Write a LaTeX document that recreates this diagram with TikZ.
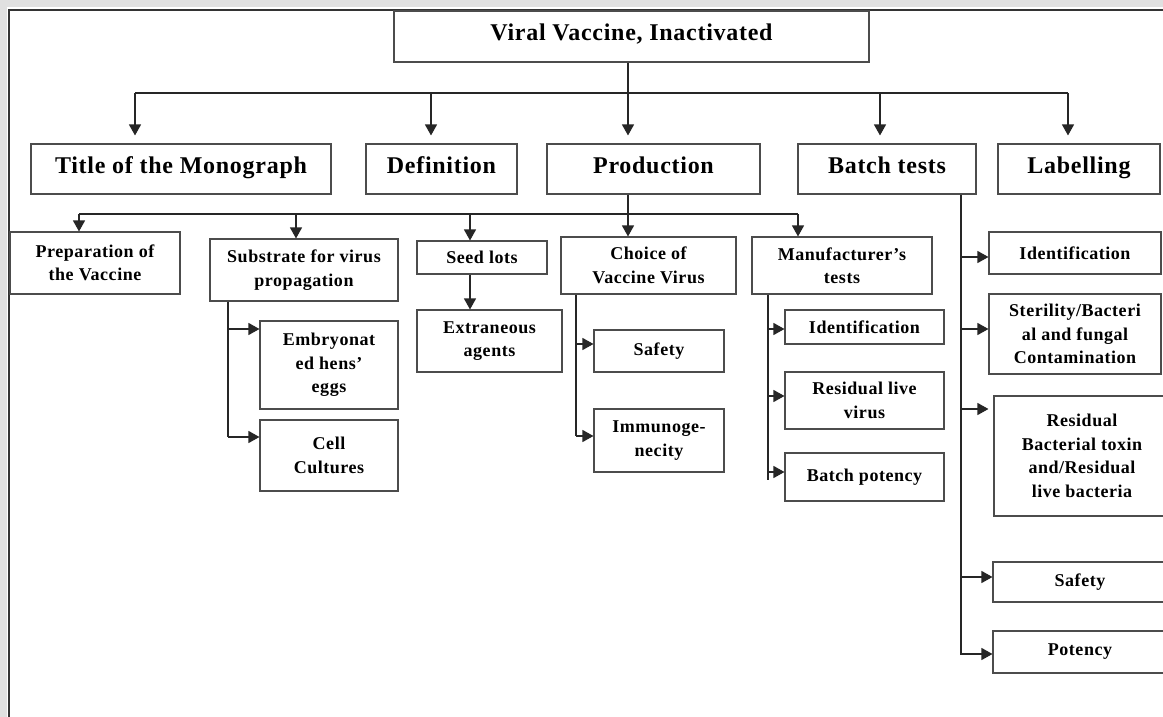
\documentclass[tikz,border=0pt]{standalone}
\usepackage{fontspec}
\setmainfont{Liberation Serif}[LetterSpace=3]
\usetikzlibrary{arrows.meta}
\begin{document}
\begin{tikzpicture}[x=1pt,y=-1pt,
  box/.style={draw=black!70, line width=1.1pt, rectangle, inner sep=0pt, align=center, text=black},
  big/.style={font=\fontsize{24}{28}\selectfont\bfseries, text height=16pt, text depth=7pt},
  small/.style={font=\fontsize{18}{23.5}\selectfont\bfseries},
  conn/.style={draw=black!85, line width=1.2pt},
  arr/.style={conn, -{Triangle[length=11pt,width=12pt]}},
  arrg/.style={arr, shorten >=8pt}]
\useasboundingbox (0,0) rectangle (1163,717);
\fill[black!12] (0,0) rectangle (1163,717);
\fill[white] (7,7) rectangle (1163,717);
\draw[draw=black!80, line width=1.1pt] (9,717) -- (9,10) -- (1163,10);

% top
\node[box, big, minimum width=475, minimum height=51] (top) at (631.5,36.5) {Viral Vaccine, Inactivated};
% level 1
\node[box, big, minimum width=300, minimum height=50] (title) at (181,169) {Title of the Monograph};
\node[box, big, minimum width=151, minimum height=50] (def) at (441.5,169) {Definition};
\node[box, big, minimum width=213, minimum height=50] (prod) at (653.5,169) {Production};
\node[box, big, minimum width=178, minimum height=50] (batch) at (887,169) {Batch tests};
\node[box, big, minimum width=162, minimum height=50] (label) at (1079,169) {Labelling};

% level 2
\node[box, small, minimum width=170, minimum height=62] (prep) at (95,263) {Preparation of\\the Vaccine};
\node[box, small, minimum width=188, minimum height=62] (subs) at (304,270) {Substrate for virus\\propagation};
\node[box, small, minimum width=130, minimum height=33] (seed) at (482,257.5) {Seed lots};
\node[box, small, minimum width=145, minimum height=62] (extr) at (489.5,341) {Extraneous\\agents};
\node[box, small, minimum width=175, minimum height=57] (choice) at (648.5,265.5) {Choice of\\Vaccine Virus};
\node[box, small, minimum width=130, minimum height=42] (safe1) at (659,351) {Safety};
\node[box, small, minimum width=130, minimum height=63] (immu) at (659,440.5) {Immunoge-\\necity};
\node[box, small, minimum width=180, minimum height=57] (manu) at (842,265.5) {Manufacturer’s\\tests};
\node[box, small, minimum width=159, minimum height=34] (id1) at (864.5,327) {Identification};
\node[box, small, minimum width=159, minimum height=57] (resv) at (864.5,400.5) {Residual live\\virus};
\node[box, small, minimum width=159, minimum height=48] (bpot) at (864.5,477) {Batch potency};
\node[box, small, minimum width=138, minimum height=88] (embr) at (329,365) {Embryonat\\ed hens’\\eggs};
\node[box, small, minimum width=138, minimum height=71] (cell) at (329,455.5) {Cell\\Cultures};
\node[box, small, minimum width=172, minimum height=42] (id2) at (1075,253) {Identification};
\node[box, small, minimum width=172, minimum height=80] (ster) at (1075,334) {Sterility/Bacteri\\al and fungal\\Contamination};
\node[box, small, minimum width=176, minimum height=120] (resb) at (1082,456) {Residual\\Bacterial toxin\\and/Residual\\live bacteria};
\node[box, small, minimum width=174, minimum height=40] (safe2) at (1080,582) {Safety};
\node[box, small, minimum width=174, minimum height=42] (pot2) at (1080,652) {Potency};

% connectors level 1
\draw[conn] (628,0 |- top.south) -- (628,93);
\draw[conn] (135,93) -- (1068,93);
\draw[arrg] (135,93) -- (135,0 |- title.north);
\draw[arrg] (431,93) -- (431,0 |- def.north);
\draw[arrg] (628,93) -- (628,0 |- prod.north);
\draw[arrg] (880,93) -- (880,0 |- batch.north);
\draw[arrg] (1068,93) -- (1068,0 |- label.north);

% connectors level 2
\draw[conn] (628,0 |- prod.south) -- (628,214);
\draw[conn] (79,214) -- (798,214);
\draw[arr] (79,214) -- (79,0 |- prep.north);
\draw[arr] (296,214) -- (296,0 |- subs.north);
\draw[arr] (470,214) -- (470,0 |- seed.north);
\draw[arr] (628,214) -- (628,0 |- choice.north);
\draw[arr] (798,214) -- (798,0 |- manu.north);

% seed -> extraneous
\draw[arr] (470,0 |- seed.south) -- (470,0 |- extr.north);

% substrate children
\draw[conn] (228,0 |- subs.south) -- (228,437);
\draw[arr] (228,329) -- (embr.west |- 0,329);
\draw[arr] (228,437) -- (cell.west |- 0,437);

% choice children
\draw[conn] (576,0 |- choice.south) -- (576,436);
\draw[arr] (576,344) -- (safe1.west |- 0,344);
\draw[arr] (576,436) -- (immu.west |- 0,436);

% manufacturer children
\draw[conn] (768,0 |- manu.south) -- (768,480);
\draw[arr] (768,329) -- (id1.west |- 0,329);
\draw[arr] (768,396) -- (resv.west |- 0,396);
\draw[arr] (768,472) -- (bpot.west |- 0,472);

% batch tests children
\draw[conn] (961,0 |- batch.south) -- (961,655);
\draw[arr] (961,257) -- (id2.west |- 0,257);
\draw[arr] (961,329) -- (ster.west |- 0,329);
\draw[arr] (961,409) -- ([xshift=-5pt]resb.west |- 0,409);
\draw[arr] (961,577) -- (safe2.west |- 0,577);
\draw[arr] (961,654) -- (pot2.west |- 0,654);
\end{tikzpicture}
\end{document}
